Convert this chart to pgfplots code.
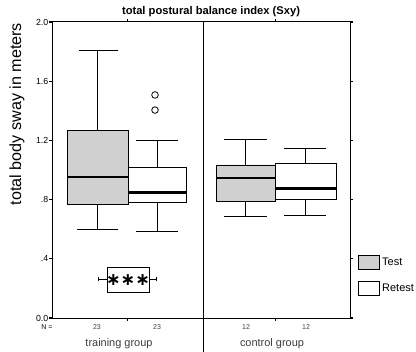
\documentclass[border=0pt]{standalone}
\usepackage{pgfplots}
\pgfplotsset{compat=1.18}
\usepackage{fontspec}
\setmainfont{Liberation Sans}
\newfontfamily\dejavu{DejaVu Sans}
\definecolor{boxgray}{RGB}{208,208,208}
\definecolor{labgray}{RGB}{60,60,60}
\begin{document}
\begin{tikzpicture}
\useasboundingbox (0,0) rectangle (416bp,352bp);
\begin{axis}[
  at={(52bp,34bp)}, anchor=south west,
  scale only axis, width=298bp, height=296bp,
  xmin=5.2, xmax=35.0, ymin=0, ymax=2,
  clip=false,
  axis line style={line width=1bp},
  xtick={12.75,27.55}, xticklabels={},
  ytick={0,0.4,0.8,1.2,1.6,2.0},
  yticklabels={0.0,.4,.8,1.2,1.6,2.0},
  tick align=outside, major tick length=2.5bp,
  tick style={line width=1.2bp,black},
  yticklabel style={font=\fontsize{8.8}{9}\selectfont, inner sep=1bp},
  ylabel={total body sway in meters},
  ylabel style={font=\fontsize{16.2}{17}\selectfont, at={(axis description cs:-0.1174,0.689)}, anchor=center},
  every axis title shift=0pt,
  title={total postural balance index (Sxy)},
  title style={font=\bfseries\fontsize{11.2}{12}\selectfont, at={(axis description cs:0.5336,1.034)}, anchor=center},
  wsk/.style={black, line width=0.9bp},
  med/.style={black, line width=2.4bp},
]
% ---------- training group, Test ----------
\addplot[fill=boxgray, draw=black, line width=0.9bp] coordinates {(6.7,0.764) (12.8,0.764) (12.8,1.27) (6.7,1.27) (6.7,0.764)};
\addplot[wsk] coordinates {(9.75,1.27) (9.75,1.81)};
\addplot[wsk] coordinates {(7.9,1.81) (11.8,1.81)};
\addplot[wsk] coordinates {(9.75,0.764) (9.75,0.60)};
\addplot[wsk] coordinates {(7.7,0.60) (11.8,0.60)};
\addplot[med] coordinates {(6.7,0.953) (12.8,0.953)};
% ---------- training group, Retest ----------
\addplot[fill=white, draw=black, line width=0.9bp] coordinates {(12.8,0.779) (18.6,0.779) (18.6,1.018) (12.8,1.018) (12.8,0.779)};
\addplot[wsk] coordinates {(15.7,1.018) (15.7,1.20)};
\addplot[wsk] coordinates {(13.6,1.20) (17.8,1.20)};
\addplot[wsk] coordinates {(15.7,0.779) (15.7,0.583)};
\addplot[wsk] coordinates {(13.6,0.583) (17.8,0.583)};
\addplot[med] coordinates {(12.8,0.849) (18.6,0.849)};
\addplot[only marks, mark=o, mark size=3.3bp, mark options={line width=0.8bp}] coordinates {(15.5,1.507) (15.5,1.405)};
% ---------- control group, Test ----------
\addplot[fill=boxgray, draw=black, line width=0.9bp] coordinates {(21.6,0.79) (27.5,0.79) (27.5,1.034) (21.6,1.034) (21.6,0.79)};
\addplot[wsk] coordinates {(24.55,1.034) (24.55,1.207)};
\addplot[wsk] coordinates {(22.4,1.207) (26.7,1.207)};
\addplot[wsk] coordinates {(24.55,0.79) (24.55,0.685)};
\addplot[wsk] coordinates {(22.4,0.685) (26.7,0.685)};
\addplot[med] coordinates {(21.6,0.944) (27.5,0.944)};
% ---------- control group, Retest ----------
\addplot[fill=white, draw=black, line width=0.9bp] coordinates {(27.5,0.80) (33.6,0.80) (33.6,1.047) (27.5,1.047) (27.5,0.80)};
\addplot[wsk] coordinates {(30.55,1.047) (30.55,1.147)};
\addplot[wsk] coordinates {(28.4,1.147) (32.6,1.147)};
\addplot[wsk] coordinates {(30.55,0.80) (30.55,0.694)};
\addplot[wsk] coordinates {(28.4,0.694) (32.6,0.694)};
\addplot[med] coordinates {(27.5,0.876) (33.6,0.876)};

% divider between groups
\draw[line width=1bp] (axis cs:20.3,2) -- (axis cs:20.3,-0.23);
% significance marker
\draw[line width=0.9bp] (axis cs:10.7,0.175) rectangle (axis cs:14.9,0.34);
\draw[line width=0.8bp] (axis cs:9.8,0.264) -- (axis cs:10.7,0.264);
\draw[line width=0.8bp] (axis cs:14.9,0.264) -- (axis cs:15.6,0.264);
\draw[line width=0.8bp] (axis cs:9.8,0.248) -- (axis cs:9.8,0.28);
\draw[line width=0.8bp] (axis cs:15.6,0.248) -- (axis cs:15.6,0.28);
\node[font=\dejavu\bfseries\fontsize{17.5}{17}\selectfont] at (axis cs:12.8,0.257) {∗∗∗};
% legend
\draw[fill=boxgray, line width=0.9bp] (axis cs:35.8,0.378) ++(0bp,-7bp) rectangle ++(21bp,14bp);
\draw[fill=white, line width=0.9bp] (axis cs:35.8,0.203) ++(0bp,-7bp) rectangle ++(21bp,14bp);
\node[font=\fontsize{11}{12}\selectfont, anchor=west, inner sep=0pt] at (axis cs:38.2,0.378) {Test};
\node[font=\fontsize{11}{12}\selectfont, anchor=west, inner sep=0pt] at (axis cs:38.2,0.203) {Retest};
% counts and group names
\node[font=\fontsize{7}{8}\selectfont] at (axis cs:4.7,-0.061) {N =};
\node[font=\fontsize{7}{8}\selectfont, text=labgray] at (axis cs:9.7,-0.061) {23};
\node[font=\fontsize{7}{8}\selectfont, text=labgray] at (axis cs:15.7,-0.061) {23};
\node[font=\fontsize{7}{8}\selectfont, text=labgray] at (axis cs:24.6,-0.061) {12};
\node[font=\fontsize{7}{8}\selectfont, text=labgray] at (axis cs:30.6,-0.061) {12};
\node[font=\fontsize{11}{12}\selectfont, text=labgray] at (axis cs:11.9,-0.176) {training group};
\node[font=\fontsize{11}{12}\selectfont, text=labgray] at (axis cs:27.2,-0.176) {control group};
\end{axis}
\end{tikzpicture}
\end{document}
